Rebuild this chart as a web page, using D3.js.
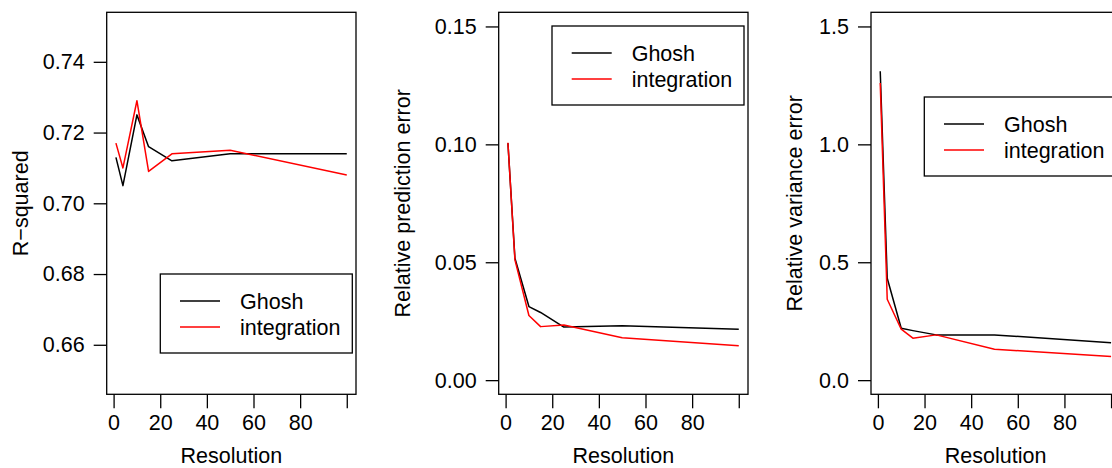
<!DOCTYPE html>
<html>
<head>
  <meta charset="utf-8">
  <script src="https://d3js.org/d3.v7.min.js"></script>
  <style>
    body { margin: 0; background: #fff; }
    svg { display: block; font-family: "Liberation Sans", Arial, sans-serif; }
    .tick text { font-size: 21.5px; fill: #000; }
    .lab { font-size: 21.5px; fill: #000; }
  </style>
</head>
<body>
<div id="chart"></div>
<script>
// resolutions on x
var resolution = [1, 4, 10, 15, 25, 50, 100];
var xTicks = [0, 20, 40, 60, 80, 100];
var xTickLabels = ["0", "20", "40", "60", "80", ""];

// R-squared
var rsqGhosh       = [0.713, 0.705, 0.725, 0.716, 0.712, 0.714, 0.714];
var rsqIntegration = [0.717, 0.710, 0.729, 0.709, 0.714, 0.715, 0.708];
var rsqTicks = [0.66, 0.68, 0.70, 0.72, 0.74];
var rsqTickLabels = ["0.66", "0.68", "0.70", "0.72", "0.74"];

// relative prediction error
var predGhosh       = [0.1005, 0.0517, 0.0312, 0.0287, 0.0225, 0.0231, 0.0216];
var predIntegration = [0.1007, 0.0510, 0.0274, 0.0227, 0.0234, 0.0180, 0.0146];
var predTicks = [0, 0.05, 0.10, 0.15];
var predTickLabels = ["0.00", "0.05", "0.10", "0.15"];

// relative variance error
var varGhosh       = [1.31, 0.432, 0.220, 0.210, 0.192, 0.192, 0.159];
var varIntegration = [1.26, 0.343, 0.216, 0.178, 0.192, 0.131, 0.100];
var varTicks = [0, 0.5, 1.0, 1.5];
var varTickLabels = ["0.0", "0.5", "1.0", "1.5"];

var seriesNames = ["Ghosh", "integration"];
var seriesColors = ["#000000", "#ff0000"];

var W = 1112, H = 468;
var svg = d3.select("#chart").append("svg")
  .attr("width", W).attr("height", H);

// R style: extend range by 4% each side
function rng(lo, hi) {
  var d = (hi - lo) * 0.04;
  return [lo - d, hi + d];
}

var panels = [
  { left: 106.7, ylab: "R\u2212squared", ylabX: 20, ylim: [0.65, 0.75],
    ticks: rsqTicks, tickLabels: rsqTickLabels, ys: [rsqGhosh, rsqIntegration],
    legend: { x: 160.3, y: 274, w: 192, h: 79 } },
  { left: 498.7, ylab: "Relative prediction error", ylabX: 402.5, ylim: [0, 0.15],
    ticks: predTicks, tickLabels: predTickLabels, ys: [predGhosh, predIntegration],
    legend: { x: 552, y: 26, w: 192, h: 79 } },
  { left: 871, ylab: "Relative variance error", ylabX: 794.7, ylim: [0, 1.5],
    ticks: varTicks, tickLabels: varTickLabels, ys: [varGhosh, varIntegration],
    legend: { x: 924.3, y: 97, w: 192, h: 79 } }
];

var plotTop = 12.3, plotBottom = 394.3, pw = 249.3;

panels.forEach(function (p) {
  var g = svg.append("g");
  var x = d3.scaleLinear().domain(rng(1, 100)).range([p.left, p.left + pw]);
  var y = d3.scaleLinear().domain(rng(p.ylim[0], p.ylim[1])).range([plotBottom, plotTop]);

  // x axis
  var xa = g.append("g").attr("transform", "translate(0," + plotBottom + ")")
    .call(d3.axisBottom(x).tickValues(xTicks).tickSize(14).tickPadding(6)
      .tickFormat(function (d, i) { return xTickLabels[i]; }));
  xa.select(".domain").remove();
  xa.selectAll(".tick line").attr("stroke", "#000").attr("stroke-width", 1.3);
  xa.selectAll(".tick text").attr("dy", "0.75em");

  // y axis
  var ya = g.append("g").attr("transform", "translate(" + p.left + ",0)")
    .call(d3.axisLeft(y).tickValues(p.ticks).tickSize(13).tickPadding(9)
      .tickFormat(function (d, i) { return p.tickLabels[i]; }));
  ya.select(".domain").remove();
  ya.selectAll(".tick line").attr("stroke", "#000").attr("stroke-width", 1.3);

  // lines
  var line = d3.line()
    .x(function (d, i) { return x(resolution[i]); })
    .y(function (d) { return y(d); });
  p.ys.forEach(function (vals, k) {
    g.append("path").datum(vals)
      .attr("d", line)
      .attr("fill", "none")
      .attr("stroke", seriesColors[k])
      .attr("stroke-width", 1.5)
      .attr("stroke-linejoin", "round");
  });

  // box
  g.append("rect")
    .attr("x", p.left).attr("y", plotTop)
    .attr("width", pw).attr("height", plotBottom - plotTop)
    .attr("fill", "none").attr("stroke", "#000").attr("stroke-width", 1.3);

  // axis titles
  g.append("text").attr("class", "lab")
    .attr("x", p.left + pw / 2).attr("y", 463)
    .attr("text-anchor", "middle")
    .text("Resolution");
  g.append("text").attr("class", "lab")
    .attr("transform", "translate(" + (p.ylabX + 7.5) + "," + ((plotTop + plotBottom) / 2) + ") rotate(-90)")
    .attr("text-anchor", "middle")
    .text(p.ylab);

  // legend
  var L = p.legend;
  var lg = g.append("g");
  lg.append("rect")
    .attr("x", L.x).attr("y", L.y).attr("width", L.w).attr("height", L.h)
    .attr("fill", "#fff").attr("stroke", "#000").attr("stroke-width", 1.3);
  seriesNames.forEach(function (name, k) {
    var ly = L.y + 27 + k * 26;
    lg.append("line")
      .attr("x1", L.x + 19.7).attr("x2", L.x + 59.7)
      .attr("y1", ly).attr("y2", ly)
      .attr("stroke", seriesColors[k]).attr("stroke-width", 1.5);
    lg.append("text").attr("class", "lab")
      .attr("x", L.x + 79.7).attr("y", ly)
      .attr("dy", "0.35em")
      .text(name);
  });
});
</script>
</body>
</html>
